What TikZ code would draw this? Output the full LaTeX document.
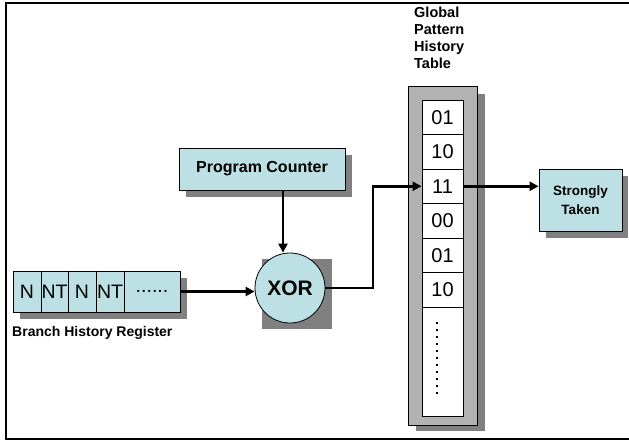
\documentclass[tikz,border=0pt]{standalone}
\usepackage{fontspec}
\setmainfont{Liberation Sans}
\usetikzlibrary{arrows.meta}
\definecolor{boxfill}{RGB}{188,224,228}
\definecolor{shadowgray}{RGB}{128,128,128}
\definecolor{tablegray}{RGB}{178,178,178}
\begin{document}
\begin{tikzpicture}[x=1pt,y=-1pt,
  box/.style={draw=black, line width=0.8pt, fill=boxfill, inner sep=0pt},
  cell/.style={box, minimum height=41pt, font=\fontsize{19.5}{19.5}\selectfont},
  shadowbox/.style={fill=shadowgray},
  arr/.style={line width=2.7pt, -{Triangle[length=9pt,width=9pt]}},
  tcell/.style={draw=black, line width=0.8pt, fill=white, minimum width=41pt, minimum height=34.5pt, inner sep=0pt, font=\fontsize{20}{20}\selectfont}]
\useasboundingbox (0,0) rectangle (629,441);
\draw[line width=2pt] (6,3) rectangle (640,439);
% shadows
\fill[shadowbox] (20,278) rectangle (187,319);
\fill[shadowbox] (186,155) rectangle (352,197);
\fill[shadowbox] (262,259) rectangle (332,329);
\fill[shadowbox] (416,94) rectangle (485,431);
\fill[shadowbox] (546,176) rectangle (628,238);
% branch history register
\node[cell, minimum width=28pt] (c1) at (27,291.5) {N};
\node[cell, minimum width=27pt] (c2) at (54.5,291.5) {NT};
\node[cell, minimum width=28pt] (c3) at (82,291.5) {N};
\node[cell, minimum width=28pt] (c4) at (110,291.5) {NT};
\node[cell, minimum width=56pt] (c5) at (152,291.5) {......};
\node[anchor=west, inner sep=0pt, font=\bfseries\fontsize{14}{14}\selectfont] (bhrlabel) at (12,333) {Branch History Register};
% program counter
\node[box, minimum width=166pt, minimum height=42pt, font=\bfseries\fontsize{16}{16}\selectfont] (pc) at (262,169) {Program Counter};
% xor
\node[box, circle, minimum size=70pt, font=\bfseries\fontsize{21}{21}\selectfont] (xor) at (290,288) {XOR};
% table
\node[draw=black, line width=0.8pt, fill=tablegray, minimum width=69pt, minimum height=339pt, inner sep=0pt] (tbl) at (442.5,255.5) {};
\node[tcell] (r1) at (442.5,117.25) {01};
\node[tcell] (r2) at (442.5,151.75) {10};
\node[tcell] (r3) at (442.5,186.25) {11};
\node[tcell] (r4) at (442.5,220.75) {00};
\node[tcell] (r5) at (442.5,255.25) {01};
\node[tcell] (r6) at (442.5,289.75) {10};
\node[tcell, minimum height=109pt] (r7) at (442.5,361.5) {};
\draw[line width=1.6pt, dash pattern=on 1.6pt off 5.4pt] (437,322) -- (437,398);
\node[anchor=north west, inner sep=0pt, align=left, font=\bfseries\fontsize{14.5}{17}\selectfont] (title) at (414,7) {Global\\Pattern\\History\\Table};
% strongly taken
\node[box, minimum width=83pt, minimum height=62pt, align=center, font=\bfseries\fontsize{13.5}{19}\selectfont] (st) at (580.5,200) {Strongly\\Taken};
% connectors
\coordinate (pcx) at (283,0);
\coordinate (bend) at (373,0);
\draw[arr] (c5.east) -- (c5.east -| xor.west);
\draw[arr] (pc.south -| pcx) -- (xor.north -| pcx);
\draw[arr] (xor.east) -- (xor.east -| bend) -- (bend |- r3.west) -- (r3.west);
\draw[arr] (r3.east) -- (r3.east -| st.west);
\end{tikzpicture}
\end{document}
